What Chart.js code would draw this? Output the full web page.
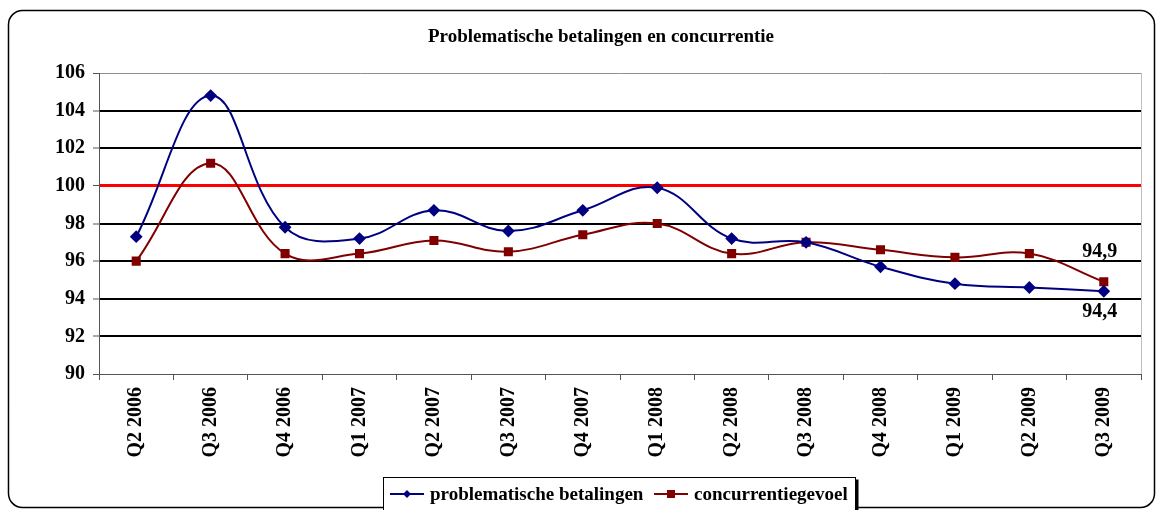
<!DOCTYPE html>
<html>
<head>
<meta charset="utf-8">
<script src="https://cdn.jsdelivr.net/npm/chart.js@4/dist/chart.umd.min.js"></script>
<style>
  html, body { margin: 0; padding: 0; background: #fff; }
  #wrap { width: 1162px; height: 510px; }
</style>
</head>
<body>
<div id="wrap"><canvas id="lineChart" width="1162" height="510"></canvas></div>
<script>
// data
const quarters = ["Q2 2006", "Q3 2006", "Q4 2006", "Q1 2007", "Q2 2007", "Q3 2007", "Q4 2007",
  "Q1 2008", "Q2 2008", "Q3 2008", "Q4 2008", "Q1 2009", "Q2 2009", "Q3 2009"];
const betalingen = [97.3, 104.8, 97.8, 97.2, 98.7, 97.6, 98.7, 99.9, 97.2, 97.0, 95.7, 94.8, 94.6, 94.4];
const concurrentie = [96.0, 101.2, 96.4, 96.4, 97.1, 96.5, 97.4, 98.0, 96.4, 97.0, 96.6, 96.2, 96.4, 94.9];
const yTicks = [90, 92, 94, 96, 98, 100, 102, 104, 106];
const seriesNames = ["problematische betalingen", "concurrentiegevoel"];
const chartTitle = 'Problematische betalingen en concurrentie';

const FONT = "'Liberation Serif', 'Times New Roman', serif";
const BLUE = "#000080";
const DARKRED = "#800000";

// outer frame, title, plot border, end labels, legend box
const decorPlugin = {
  id: 'decor',
  beforeDraw(chart) {
    const ctx = chart.ctx;
    ctx.save();
    ctx.fillStyle = '#fff';
    ctx.fillRect(0, 0, chart.width, chart.height);
    ctx.restore();
  },
  afterDraw(chart) {
    const ctx = chart.ctx;
    const a = chart.chartArea;
    ctx.save();
    // outer rounded frame
    ctx.strokeStyle = '#000';
    ctx.lineWidth = 1.5;
    ctx.beginPath();
    ctx.roundRect(8.5, 10.5, 1146, 497, 14);
    ctx.stroke();
    // title
    ctx.font = 'bold 19px ' + FONT;
    ctx.fillStyle = '#000';
    ctx.textAlign = 'center';
    ctx.textBaseline = 'middle';
    ctx.fillText(chartTitle, 601, 37);
    // right border of the plot
    ctx.strokeStyle = '#c0c0c0';
    ctx.lineWidth = 1;
    ctx.beginPath();
    ctx.moveTo(a.right + 0.5, a.top);
    ctx.lineTo(a.right + 0.5, a.bottom);
    ctx.stroke();

    // value labels on last points
    ctx.font = 'bold 20px ' + FONT;
    const last = quarters.length - 1;
    const pRed = chart.getDatasetMeta(1).data[last];
    const pBlue = chart.getDatasetMeta(0).data[last];
    ctx.fillText(String(concurrentie[last]).replace('.', ','), pRed.x - 4, pRed.y - 30);
    ctx.fillText(String(betalingen[last]).replace('.', ','), pBlue.x - 4, pBlue.y + 21);

    // legend
    const lx = 383.5, ly = 477.5, lw = 472, lh = 40;
    ctx.fillStyle = '#000';
    ctx.fillRect(lx + lw, ly + 2, 3, lh);
    ctx.fillStyle = '#fff';
    ctx.fillRect(lx, ly, lw, lh);
    ctx.strokeStyle = '#000';
    ctx.lineWidth = 1;
    ctx.strokeRect(lx, ly, lw, lh);

    const items = [
      { x: 390, color: BLUE, style: 'diamond', text: seriesNames[0] },
      { x: 654, color: DARKRED, style: 'square', text: seriesNames[1] }
    ];
    ctx.font = 'bold 19px ' + FONT;
    ctx.textAlign = 'left';
    ctx.textBaseline = 'middle';
    const cy = 494;
    items.forEach(it => {
      ctx.strokeStyle = it.color;
      ctx.fillStyle = it.color;
      ctx.lineWidth = 2;
      ctx.beginPath();
      ctx.moveTo(it.x, cy);
      ctx.lineTo(it.x + 34, cy);
      ctx.stroke();
      const mx = it.x + 17;
      if (it.style === 'diamond') {
        ctx.beginPath();
        ctx.moveTo(mx, cy - 4);
        ctx.lineTo(mx + 4, cy);
        ctx.lineTo(mx, cy + 4);
        ctx.lineTo(mx - 4, cy);
        ctx.closePath();
        ctx.fill();
      } else {
        ctx.fillRect(mx - 4, cy - 4, 8, 8);
      }
      ctx.fillStyle = '#000';
      ctx.fillText(it.text, it.x + 40, cy + 1);
    });
    ctx.restore();
  }
};

const config = {
  type: 'line',
  data: {
    labels: quarters,
    datasets: [{
      label: seriesNames[0],
      data: betalingen,
      borderColor: BLUE,
      backgroundColor: BLUE,
      borderWidth: 2,
      tension: 0.4,
      pointStyle: 'rectRot',
      pointRadius: 5,
      fill: false
    }, {
      label: seriesNames[1],
      data: concurrentie,
      borderColor: DARKRED,
      backgroundColor: DARKRED,
      borderWidth: 2,
      tension: 0.4,
      pointStyle: 'rect',
      pointRadius: 5,
      fill: false
    }]
  },
  options: {
    responsive: false,
    animation: false,
    maintainAspectRatio: false,
    layout: { padding: { left: 0, right: 21, top: 73, bottom: 0 } },
    plugins: {
      legend: { display: false },
      tooltip: { enabled: false },
      title: { display: false }
    },
    scales: {
      x: {
        offset: true,
        afterFit(scale) { scale.height = 136; },
        grid: {
          offset: true,
          drawOnChartArea: false,
          drawTicks: true,
          tickLength: 6,
          color: '#555'
        },
        border: { color: '#555', width: 1 },
        ticks: {
          color: '#000',
          maxRotation: 90,
          minRotation: 90,
          padding: 7,
          autoSkip: false,
          font: { family: FONT, size: 20, weight: 'bold' }
        }
      },
      y: {
        min: yTicks[0],
        max: yTicks[yTicks.length - 1],
        afterFit(scale) { scale.width = 99; },
        afterBuildTicks(scale) { scale.ticks = yTicks.map(v => ({ value: v })); },
        grid: {
          color(c) {
            const v = c.tick && c.tick.value;
            if (v === 100) return '#ff0000';
            if (v === 106) return '#909090';
            if (v === 90) return '#555';
            return '#000';
          },
          lineWidth(c) {
            const v = c.tick && c.tick.value;
            if (v === 100) return 3;
            if (v === 106 || v === 90) return 1;
            return 2;
          },
          tickColor: '#555',
          tickWidth: 1,
          tickLength: 6
        },
        border: { color: '#555', width: 1 },
        ticks: {
          color: '#000',
          padding: 8,
          font: { family: FONT, size: 20, weight: 'bold' }
        }
      }
    }
  },
  plugins: [decorPlugin]
};

const lineChart = new Chart(document.getElementById("lineChart").getContext("2d"), config);
</script>
</body>
</html>
